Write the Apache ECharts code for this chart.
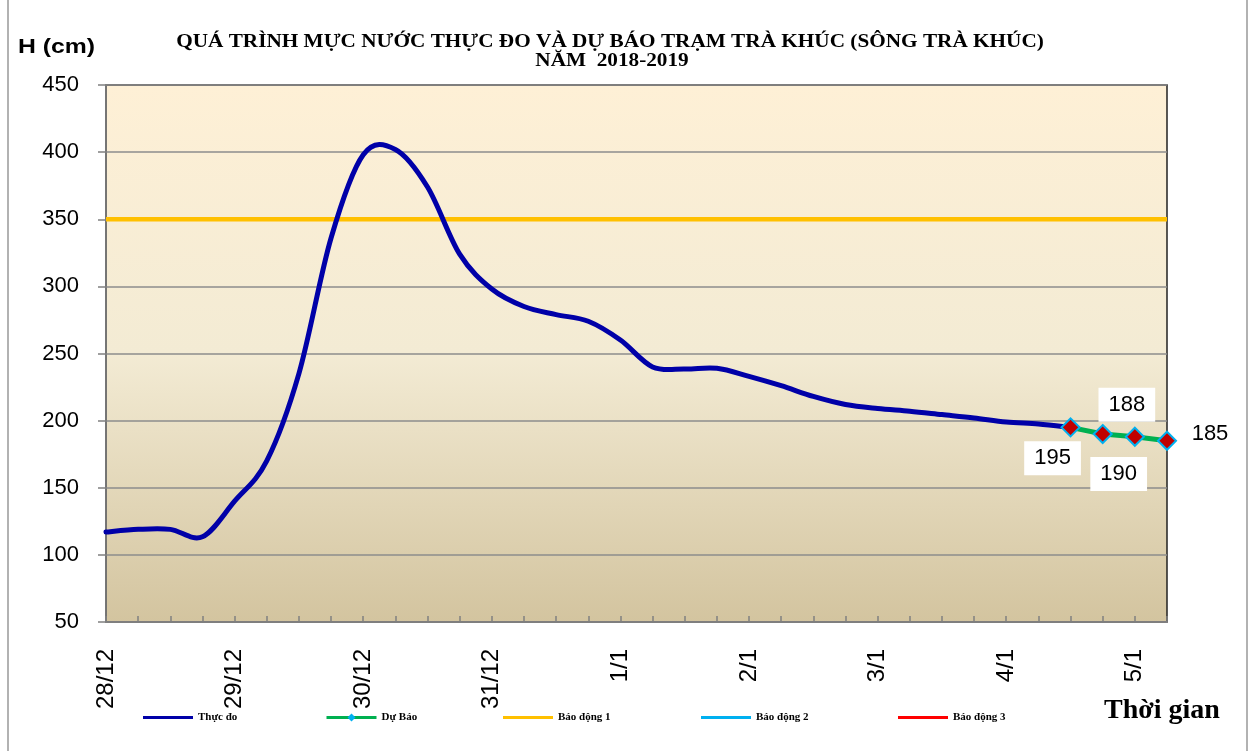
<!DOCTYPE html>
<html>
<head>
<meta charset="utf-8">
<script src="https://cdn.jsdelivr.net/npm/echarts@6/dist/echarts.min.js"></script>
<style>
html,body{margin:0;padding:0;background:#fff;}
#chart{width:1256px;height:751px;}
</style>
</head>
<body>
<div id="chart"></div>
<script>
// ---- data ----
var categories = [
  '28/12 00h','28/12 06h','28/12 12h','28/12 18h',
  '29/12 00h','29/12 06h','29/12 12h','29/12 18h',
  '30/12 00h','30/12 06h','30/12 12h','30/12 18h',
  '31/12 00h','31/12 06h','31/12 12h','31/12 18h',
  '1/1 00h','1/1 06h','1/1 12h','1/1 18h',
  '2/1 00h','2/1 06h','2/1 12h','2/1 18h',
  '3/1 00h','3/1 06h','3/1 12h','3/1 18h',
  '4/1 00h','4/1 06h','4/1 12h','4/1 18h',
  '5/1 00h','5/1 06h'
];
var observed = [117,119,119,113.5,140,170,235,336,398,402,374,324,298,285,279,274,260,240,238.5,239,233,226,218,212,209,207,204.5,202,199,197.5,195];
var forecast = [195,190,188,185];
var forecastStart = 30;
var alarm1 = 350;
var yTicks = {min:50, max:450, interval:50};
var title1 = 'QUÁ TRÌNH MỰC NƯỚC THỰC ĐO VÀ DỰ BÁO TRẠM TRÀ KHÚC (SÔNG TRÀ KHÚC)';
var title2 = 'NĂM  2018-2019';

// ---- build ----
var forecastLabelOffsets = [[-18,31],[16,40],[-8,-32],[43,-7]];
var forecastData = categories.map(function(c,i){
  var k = i - forecastStart;
  if (k < 0 || k >= forecast.length) return null;
  return {
    value: forecast[k],
    label: {show:true, position:'inside', offset: forecastLabelOffsets[k],
      backgroundColor: k === 3 ? 'transparent' : '#fff', padding:[6,10],
      color:'#000', fontSize:22, fontFamily:'Liberation Sans, Arial, sans-serif',
      formatter: function(p){ return String(p.value); }}
  };
});
var alarm1Data = categories.map(function(){ return alarm1; });
var observedData = observed.map(function(v,i){ return [i, v]; });

// smooth curve (Catmull-Rom style, like a spreadsheet "smoothed line") through axis coordinates
function renderObserved(params, api){
  if (params.dataIndex !== 0) return null;
  var pts = observed.map(function(v,i){ return api.coord([i, v]); });
  var n = pts.length;
  var d = 'M' + pts[0][0] + ' ' + pts[0][1];
  for (var i = 0; i < n - 1; i++){
    var p0 = pts[Math.max(i-1,0)], p1 = pts[i], p2 = pts[i+1], p3 = pts[Math.min(i+2,n-1)];
    var c1x = p1[0] + (p2[0]-p0[0])/6, c1y = p1[1] + (p2[1]-p0[1])/6;
    var c2x = p2[0] - (p3[0]-p1[0])/6, c2y = p2[1] - (p3[1]-p1[1])/6;
    d += ' C' + c1x + ' ' + c1y + ' ' + c2x + ' ' + c2y + ' ' + p2[0] + ' ' + p2[1];
  }
  return {type:'path', shape:{pathData:d},
    style:{stroke:'#0000A8', lineWidth:5, fill:'none', lineJoin:'round', lineCap:'round'}};
}

var chart = echarts.init(document.getElementById('chart'), null, {renderer:'canvas'});
var legendBase = {
  orient:'horizontal', top:707, itemWidth:50, itemHeight:3, icon:'rect',
  textStyle:{fontFamily:'Liberation Serif, Times New Roman, serif', fontWeight:'bold', fontSize:11, color:'#000'},
  selectedMode:false
};
function lg(name, left, extra){
  return Object.assign({}, legendBase, {left:left, data:[name]}, extra || {});
}
var serifBold = '"Liberation Serif", "Times New Roman", serif';
chart.setOption({
  animation:false,
  backgroundColor:'#fff',
  grid:{left:106, right:89, top:85, bottom:129, show:true,
    borderColor:'#222', borderWidth:1.5,
    backgroundColor:{type:'linear', x:0, y:0, x2:0, y2:1,
      colorStops:[{offset:0,color:'#FEF0D6'},{offset:0.5,color:'#F3EBD4'},{offset:1,color:'#D3C49F'}]}},
  legend:[
    lg('Thực đo',138),
    lg('Dự Báo',320,{icon:null, itemHeight:10, top:707, lineStyle:{width:3},
      data:[{name:'Dự Báo', itemStyle:{color:'#00B0F0', borderWidth:0}}]}),
    lg('Báo động 1',498),
    lg('Báo động 2',696),
    lg('Báo động 3',893)
  ],
  graphic:[
    {type:'text', x:18, y:47, scaleX:1.18, style:{text:'H (cm)', fill:'#000', textVerticalAlign:'middle', font:'bold 21px "Liberation Sans", Arial, sans-serif'}},
    {type:'text', x:610, y:42, scaleX:1.18, style:{text:title1, fill:'#000', textAlign:'center', textVerticalAlign:'middle', font:'bold 18px ' + serifBold}},
    {type:'text', x:612, y:61, scaleX:1.18, style:{text:title2, fill:'#000', textAlign:'center', textVerticalAlign:'middle', font:'bold 18px ' + serifBold}},
    {type:'text', x:1104, y:711, style:{text:'Thời gian', fill:'#000', textAlign:'left', textVerticalAlign:'middle', font:'bold 28px ' + serifBold}},
    {type:'line', shape:{x1:8,y1:0,x2:8,y2:751}, style:{stroke:'#999', lineWidth:1.5}},
    {type:'line', shape:{x1:1247,y1:0,x2:1247,y2:751}, style:{stroke:'#999', lineWidth:1.5}}
  ],
  xAxis:{
    type:'category', data:categories, boundaryGap:false,
    axisLine:{lineStyle:{color:'#808080', width:1.5}},
    axisTick:{show:true, inside:true, length:6, interval:0, lineStyle:{color:'#808080', width:1.5}},
    axisLabel:{interval:3, rotate:90, margin:27, fontSize:24, color:'#000',
      fontFamily:'Liberation Sans, Arial, sans-serif',
      formatter:function(v){ return v.split(' ')[0]; }},
    splitLine:{show:false}
  },
  yAxis:{
    type:'value', min:yTicks.min, max:yTicks.max, interval:yTicks.interval,
    axisLine:{show:true, lineStyle:{color:'#808080', width:1.5}},
    axisTick:{show:true, length:8, lineStyle:{color:'#808080', width:1.5}},
    axisLabel:{fontSize:22, color:'#000', margin:27, fontFamily:'Liberation Sans, Arial, sans-serif'},
    splitLine:{lineStyle:{color:'#8C8C8C', width:1.5}}
  },
  series:[
    {name:'Báo động 1', type:'line', data:alarm1Data, symbol:'none', z:2,
      lineStyle:{color:'#FFC000', width:4.5}, itemStyle:{color:'#FFC000'}},
    {name:'Báo động 2', type:'line', data:[], symbol:'none',
      lineStyle:{color:'#00B0F0', width:3}, itemStyle:{color:'#00B0F0'}},
    {name:'Báo động 3', type:'line', data:[], symbol:'none',
      lineStyle:{color:'#FF0000', width:3}, itemStyle:{color:'#FF0000'}},
    {name:'Thực đo', type:'custom', data:observedData, renderItem:renderObserved, z:3,
      encode:{x:0, y:1}, itemStyle:{color:'#0000A8'}},
    {name:'Dự Báo', type:'line', data:forecastData, symbol:'diamond', symbolSize:18, z:4,
      lineStyle:{color:'#00B050', width:5},
      itemStyle:{color:'#C00000', borderColor:'#00B0F0', borderWidth:2}}
  ]
});
</script>
</body>
</html>
